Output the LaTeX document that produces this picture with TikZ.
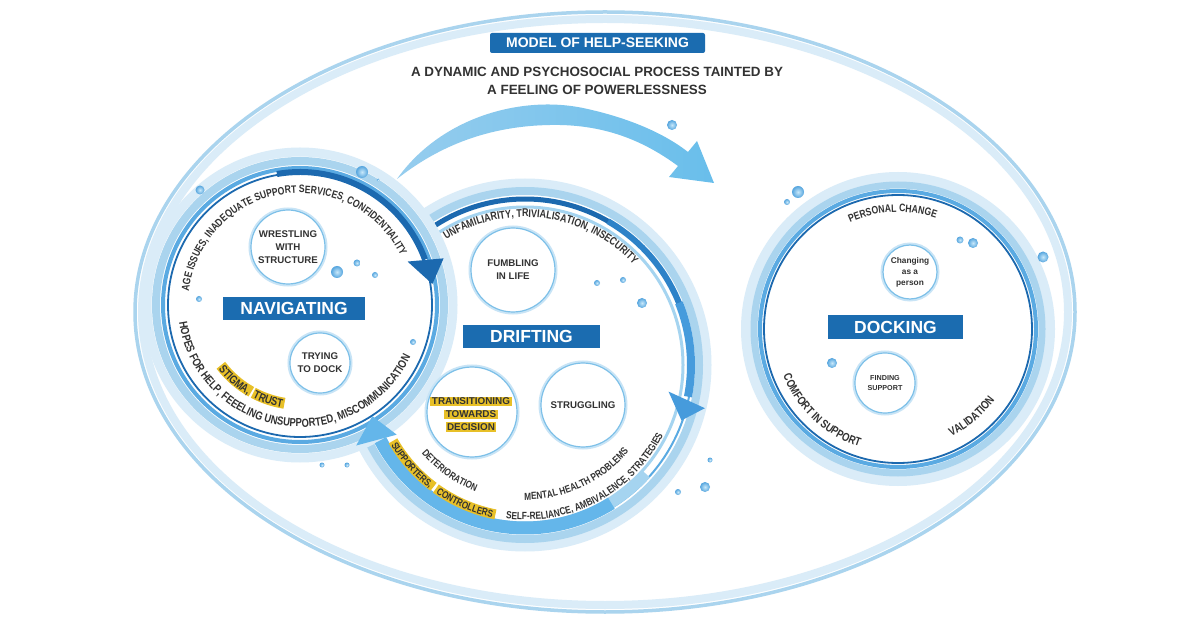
\documentclass[tikz,border=0pt]{standalone}
\usepackage{fontspec}
\setmainfont{Liberation Sans}
\newfontfamily\condf[FakeStretch=0.8]{Liberation Sans}
\usetikzlibrary{calc,decorations.text}
\definecolor{dblue}{RGB}{27,108,176}
\definecolor{rdark}{RGB}{28,105,175}
\definecolor{rmid}{RGB}{90,170,226}
\definecolor{rlight}{RGB}{170,212,238}
\definecolor{rvlight}{RGB}{218,236,248}
\definecolor{txt}{RGB}{50,50,50}
\definecolor{hl}{RGB}{232,192,40}
\definecolor{arrL}{RGB}{150,205,238}
\definecolor{arrR}{RGB}{105,190,235}
\definecolor{bubin}{RGB}{200,232,250}
\definecolor{bubout}{RGB}{85,165,222}
\definecolor{cring}{RGB}{125,192,232}
\definecolor{chalo}{RGB}{200,228,246}
\definecolor{bandA}{RGB}{45,130,200}
\definecolor{bandB}{RGB}{70,155,220}
\definecolor{bandC}{RGB}{100,182,234}
\definecolor{bandD}{RGB}{165,212,240}
\newcommand\cf[1]{\condf\bfseries\fontsize{#1pt}{#1pt}\selectfont}
\newcommand\crvAge{\cf{10.8}}
\newcommand\crvHope{\cf{11.7}}
\newcommand\crvUnf{\cf{11.2}}
\newcommand\crvSelf{\cf{10.4}}
\newcommand\crvMen{\cf{10.3}}
\newcommand\crvDet{\cf{10.1}}
\newcommand\crvPer{\cf{10.8}}
\newcommand\crvCom{\cf{11.7}}
\newcommand\bub[3]{\shade[inner color=bubin, outer color=bubout] (#1,#2) circle[radius=#3];}
\tikzset{
  curved/.style={decorate, decoration={text along path, text align=center, text color=txt, text={#1}}},
  stagebox/.style={fill=dblue, text=white, font=\bfseries\fontsize{17.5pt}{17.5pt}\selectfont, minimum height=23.5pt, inner sep=0pt},
  titlebox/.style={fill=dblue, rounded corners=2pt, text=white, font=\bfseries\fontsize{14pt}{14pt}\selectfont, minimum width=215pt, minimum height=20pt, inner sep=0pt},
  subtitle/.style={text=txt, align=center, font=\bfseries\fontsize{13.4pt}{18pt}\selectfont},
  incirc/.style={circle, draw=cring, line width=1.2pt, fill=white, preaction={draw=chalo, line width=5pt},
    text=txt, align=center, inner sep=0pt, font=\bfseries\fontsize{9.7pt}{13pt}\selectfont},
  hlbox/.style={fill=hl, text=txt, inner xsep=1.5pt, inner ysep=1.3pt, font=\bfseries\fontsize{9.9pt}{9.9pt}\selectfont},
}
\begin{document}
\begin{tikzpicture}[x=1pt,y=1pt]
\useasboundingbox (0,0) rectangle (1200,630);
\fill[white] (0,0) rectangle (1200,630);

% outer ellipse
\coordinate (E) at (605,318);
\draw[rvlight, line width=8] (E) ellipse[x radius=463, y radius=293];
\draw[rlight, line width=3.5] (E) ellipse[x radius=470, y radius=300];

% big arrow
\shade[left color=arrL, right color=arrR]
 (397,451) .. controls (440,512) and (520,535) .. (583,522)
 .. controls (630,512) and (665,496) .. (688,478)
 -- (697,489) -- (714,447) -- (669,453) -- (678,464)
 .. controls (640,492) and (600,506) .. (550,505)
 .. controls (490,504) and (440,485) .. (397,451) -- cycle;

% docking circle
\coordinate (K) at (898,301);
\fill[white] (K) circle[radius=140];
\draw[rvlight, line width=10] (K) circle[radius=152];
\draw[rlight, line width=7] (K) circle[radius=144];
\draw[rmid, line width=4] (K) circle[radius=138];
\draw[rdark, line width=1.8] (K) circle[radius=134];

% drifting circle
\coordinate (D) at (525,265);
\fill[white] (D) circle[radius=170];
\draw[rvlight, line width=9] (D) circle[radius=182];
\draw[rlight, line width=8] (D) circle[radius=174];
\draw[rmid, line width=2] (D) circle[radius=167];
\draw[bandD, line width=3] (D) circle[radius=158];
\draw[rdark, line width=5] ($(D)+(128:166)$) arc[start angle=128, end angle=58, radius=166];
\draw[bandA, line width=6] ($(D)+(60:166)$) arc[start angle=60, end angle=20, radius=166];
\draw[bandB, line width=8] ($(D)+(22:166)$) arc[start angle=22, end angle=-11, radius=166];
\fill[bandB] ($(D)+(-10.5:146)$) -- ($(D)+(-13.5:185)$) -- ($(D)+(-19.5:166)$) -- cycle;

% navigating circle
\coordinate (N) at (300,325);
\fill[white] (N) circle[radius=150];
\draw[rvlight, line width=9] (N) circle[radius=153];
\draw[rlight, line width=8] (N) circle[radius=144];
\draw[rmid, line width=4] (N) circle[radius=137];
\draw[rdark, line width=1.8] (N) circle[radius=132];
\draw[rdark, line width=6] ($(N)+(100:133)$) arc[start angle=100, end angle=20, radius=133];
\fill[rdark] ($(N)+(22:116)$) -- ($(N)+(18:151)$) -- ($(N)+(9:134)$) -- cycle;

% drifting bottom arrow
\draw[bandD, line width=10] ($(D)+(318:163)$) arc[start angle=318, end angle=300, radius=163];
\draw[bandC, line width=13] ($(D)+(302:163)$) arc[start angle=302, end angle=207.5, radius=163];
\fill[bandC] ($(D)+(208.5:146)$) -- ($(D)+(205.5:187)$) -- ($(D)+(198.5:161)$) -- cycle;

% title
\node[titlebox] (title) at (597.5,587) {MODEL OF HELP-SEEKING};
\node[subtitle] (sub) at (597,549) {A DYNAMIC AND PSYCHOSOCIAL PROCESS TAINTED BY\\A FEELING OF POWERLESSNESS};

% stage labels
\node[stagebox, minimum width=142pt] (navl) at (294,321.5) {NAVIGATING};
\node[stagebox, minimum width=137pt] (drl) at (531.5,293.5) {DRIFTING};
\node[stagebox, minimum width=135pt] (dkl) at (895.5,303) {DOCKING};

% inner circles
\node[incirc, minimum size=74pt] (wr) at (288,383) {WRESTLING\\WITH\\STRUCTURE};
\node[incirc, minimum size=60pt] (td) at (320,267) {TRYING\\TO DOCK};
\node[incirc, minimum size=84pt] (fl) at (513,360) {FUMBLING\\IN LIFE};
\node[incirc, minimum size=90pt] (tr) at (472,218) {};
\node[incirc, minimum size=84pt] (st) at (583,225) {STRUGGLING};
\node[incirc, minimum size=54pt, font=\bfseries\fontsize{8.3pt}{11pt}\selectfont] (cp) at (910,358) {Changing\\as a\\person};
\node[incirc, minimum size=60pt, font=\bfseries\fontsize{7.2pt}{10pt}\selectfont] (fs) at (885,247) {FINDING\\SUPPORT};
\node[hlbox] (tr1) at (471,228.5) {TRANSITIONING};
\node[hlbox] (tr2) at (471,215.5) {TOWARDS};
\node[hlbox] (tr3) at (471,203) {DECISION};

% highlight arcs
\draw[hl, line width=11] ($(N)+(217.3:99.5)$) arc[start angle=217.3, end angle=240.7, radius=99.5];
\draw[hl, line width=11] ($(N)+(242:99.5)$) arc[start angle=242, end angle=261, radius=99.5];
\draw[hl, line width=10] ($(D)+(209.9:152.3)$) arc[start angle=209.9, end angle=233.1, radius=152.3];
\draw[hl, line width=10] ($(D)+(234.2:152.3)$) arc[start angle=234.2, end angle=258.8, radius=152.3];

% curved texts: navigating
\path[curved={|\crvAge|AGE ISSUES, INADEQUATE SUPPORT SERVICES, CONFIDENTIALITY}] ($(N)+(189.5:112)$) arc[start angle=189.5, end angle=9.5, radius=112];
\path[curved={|\crvHope|HOPES FOR HELP, FEEELING UNSUPPORTED, MISCOMMUNICATION}] ($(N)+(171.5:122)$) arc[start angle=171.5, end angle=351.5, radius=122];
\path[curved={|\crvHope|STIGMA,}] ($(N)+(199:104)$) arc[start angle=199, end angle=259, radius=104];
\path[curved={|\crvHope|TRUST}] ($(N)+(221.5:104)$) arc[start angle=221.5, end angle=281.5, radius=104];

% curved texts: drifting
\path[curved={|\crvUnf|UNFAMILIARITY, TRIVIALISATION, INSECURITY}] ($(D)+(162.5:148)$) arc[start angle=162.5, end angle=2.5, radius=148];
\path[curved={|\crvSelf|SELF-RELIANCE, AMBIVALENCE, STRATEGIES}] ($(D)+(228:155)$) arc[start angle=228, end angle=368, radius=155];
\path[curved={|\crvMen|MENTAL HEALTH PROBLEMS}] ($(D)+(245:135)$) arc[start angle=245, end angle=345, radius=135];
\path[curved={|\crvDet|DETERIORATION}] ($(D)+(199.6:136)$) arc[start angle=199.6, end angle=269.6, radius=136];
\path[curved={|\crvDet|SUPPORTERS,}] ($(D)+(191.5:156)$) arc[start angle=191.5, end angle=251.5, radius=156];
\path[curved={|\crvDet|CONTROLLERS}] ($(D)+(216.5:156)$) arc[start angle=216.5, end angle=276.5, radius=156];

% curved texts: docking
\path[curved={|\crvPer|PERSONAL CHANGE}] ($(K)+(152.7:117)$) arc[start angle=152.7, end angle=32.7, radius=117];
\path[curved={|\crvCom|COMFORT IN SUPPORT}] ($(K)+(177:124)$) arc[start angle=177, end angle=277, radius=124];
\path[curved={|\crvCom|VALIDATION}] ($(K)+(280:120)$) arc[start angle=280, end angle=340, radius=120];

% bubbles
\bub{362}{458}{6}
\bub{378}{450}{1.5}
\bub{200}{440}{4.5}
\bub{337}{358}{6}
\bub{357}{367}{3.5}
\bub{375}{355}{3}
\bub{199}{331}{3}
\bub{413}{288}{3}
\bub{322}{165}{2.5}
\bub{347}{165}{2.5}
\bub{597}{347}{3}
\bub{623}{350}{3}
\bub{642}{327}{5}
\bub{710}{170}{2.5}
\bub{705}{143}{5}
\bub{678}{138}{3}
\bub{798}{438}{6}
\bub{787}{428}{3}
\bub{960}{390}{3.5}
\bub{973}{387}{5}
\bub{1043}{373}{5.5}
\bub{832}{267}{5}
\bub{672}{505}{5}
\end{tikzpicture}
\end{document}
